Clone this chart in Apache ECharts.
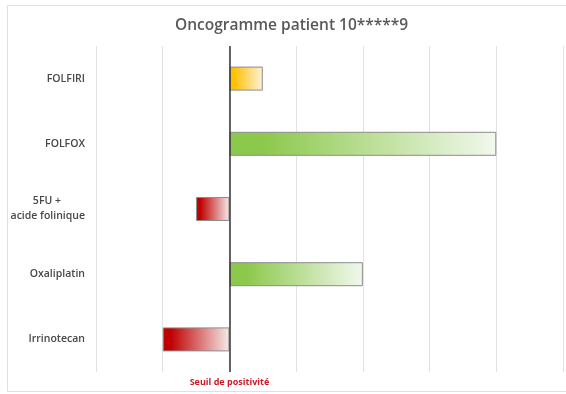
<!DOCTYPE html>
<html>
<head>
<meta charset="utf-8">
<script src="https://cdn.jsdelivr.net/npm/echarts@6/dist/echarts.min.js"></script>
<style>
html,body{margin:0;padding:0;background:#fff;}
#c{width:566px;height:394px;}
</style>
</head>
<body>
<div id="c"></div>
<script>
const titleText = 'Oncogramme patient 10*****9';
const categories = ['FOLFIRI', 'FOLFOX', '5FU +\nacide folinique', 'Oxaliplatin', 'Irrinotecan'];
const values = [0.5, 4, -0.5, 2, -1];
const thresholdLabel = 'Seuil de positivité';
const axisMin = -2, axisMax = 5, axisStep = 1;

const barColors = [
  ['#ffc000', '#fdf2dc'],
  ['#8cc84b', '#f2f8ee'],
  ['#c00000', '#f6eaea'],
  ['#8cc84b', '#f2f8ee'],
  ['#c00000', '#f6eaea']
];

const chart = echarts.init(document.getElementById('c'), null, {renderer: 'canvas'});

const seriesData = values.map((v, i) => ({
  value: v,
  itemStyle: {
    color: new echarts.graphic.LinearGradient(0, 0, 1, 0, [
      {offset: 0, color: barColors[i][0]},
      {offset: 0.12, color: barColors[i][0]},
      {offset: 1, color: barColors[i][1]}
    ]),
    borderColor: '#8c8c8c',
    borderWidth: 1
  }
}));

const labelFont = {fontFamily: 'Open Sans', fontSize: 10.5, fontWeight: 600, color: '#474747', lineHeight: 15};

chart.setOption({
  animation: false,
  backgroundColor: '#fff',
  graphic: [{
    type: 'rect',
    shape: {x: 7.5, y: 5.5, width: 570, height: 386},
    style: {fill: 'none', stroke: '#e0e0e0', lineWidth: 1},
    z: -10
  }],
  title: {
    text: titleText,
    left: 170,
    top: 13,
    textStyle: {fontFamily: 'Open Sans', fontSize: 15.5, fontWeight: 600, color: '#595959'}
  },
  grid: {left: 96, right: 3, top: 46, bottom: 22, containLabel: false},
  xAxis: {
    type: 'value',
    min: axisMin,
    max: axisMax,
    interval: axisStep,
    axisLine: {show: false},
    axisTick: {show: false},
    splitLine: {show: true, lineStyle: {color: '#e3e3e3', width: 1}},
    axisLabel: {
      margin: 6,
      fontFamily: 'Open Sans',
      fontSize: 9,
      fontWeight: 'bold',
      color: '#cc1a2a',
      formatter: v => (v === 0 ? thresholdLabel : '')
    }
  },
  yAxis: {
    type: 'category',
    data: categories,
    inverse: true,
    axisLine: {show: false},
    axisTick: {show: false},
    splitLine: {show: false},
    axisLabel: Object.assign({
      margin: 11,
      align: 'right',
      formatter: v => {
        const parts = v.split('\n');
        return parts.length > 1 ? '{t|' + parts[0] + '}\n{b|' + parts[1] + '}' : v;
      },
      rich: {
        t: Object.assign({padding: [0, 24, 0, 0]}, labelFont),
        b: Object.assign({}, labelFont)
      }
    }, labelFont)
  },
  series: [{
    type: 'bar',
    data: seriesData,
    barWidth: 24,
    markLine: {
      silent: true,
      symbol: 'none',
      label: {show: false},
      lineStyle: {color: '#333', width: 1.5, type: 'solid'},
      data: [{xAxis: 0}],
      z: 10
    }
  }]
});
</script>
</body>
</html>
